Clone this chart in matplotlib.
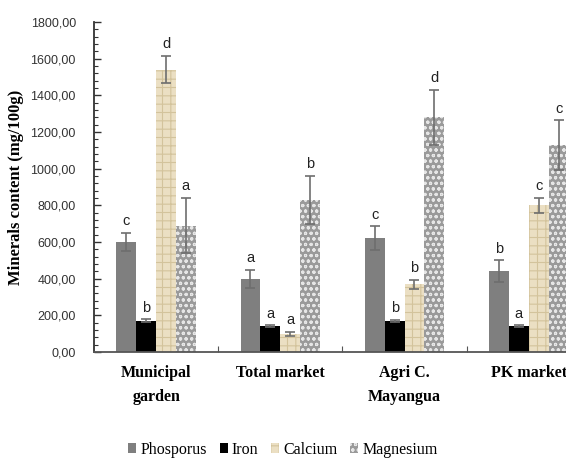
import numpy as np
import matplotlib
matplotlib.use("Agg")
import matplotlib.pyplot as plt
from matplotlib.ticker import MultipleLocator, FuncFormatter

# Datos (mg/100g)
sites = ["Municipal\ngarden", "Total market", "Agri C.\nMayangua", "PK market"]
minerals = ["Phosporus", "Iron", "Calcium", "Magnesium"]
phosporus = [600, 400, 620, 440]
iron = [170, 140, 170, 140]
calcium = [1540, 100, 370, 800]
magnesium = [690, 830, 1280, 1130]
err_p = [50, 50, 65, 60]
err_fe = [8, 6, 6, 5]
err_ca = [75, 10, 25, 40]
err_mg = [150, 130, 150, 135]
let_p = ["c", "a", "c", "b"]
let_fe = ["b", "a", "b", "a"]
let_ca = ["d", "a", "b", "c"]
let_mg = ["a", "b", "d", "c"]

values = [phosporus, iron, calcium, magnesium]
errors = [err_p, err_fe, err_ca, err_mg]
letters = [let_p, let_fe, let_ca, let_mg]
styles = [
    dict(color="#7f7f7f", edgecolor="#7f7f7f", hatch=None),
    dict(color="#000000", edgecolor="#000000", hatch=None),
    dict(color="#ebdfc3", edgecolor="#d3c39c", hatch="++"),
    dict(color="#9a9a9a", edgecolor="#e6e6e6", hatch="ooo"),
]

plt.rcParams["hatch.linewidth"] = 0.8
serif = "Liberation Serif"
sans = "Liberation Sans"

fig = plt.figure(figsize=(5.66, 4.70), dpi=100)
ax = fig.add_axes([0.166, 0.251, 0.878, 0.702])

x = np.arange(len(sites))
w = 0.16
offs = [-1.5 * w, -0.5 * w, 0.5 * w, 1.5 * w]
handles = []
for vals, errs, lets, st, off, name in zip(values, errors, letters, styles, offs, minerals):
    b = ax.bar(x + off, vals, w, color=st["color"], edgecolor=st["edgecolor"],
               hatch=st["hatch"], linewidth=0, label=name, zorder=2)
    handles.append(b)
    ax.errorbar(x + off, vals, yerr=errs, fmt="none", ecolor="#6e6e6e",
                elinewidth=1.2, capsize=3.5, capthick=1.2, zorder=3)
    for xi, v, e, l in zip(x + off, vals, errs, lets):
        ax.text(xi, v + e + 25, l, ha="center", va="bottom", fontsize=10.5,
                family=sans, color="#222222")

ax.set_xlim(-0.5, 3.5)
ax.set_ylim(0, 1800)
ax.yaxis.set_major_locator(MultipleLocator(200))
ax.yaxis.set_minor_locator(MultipleLocator(40))
ax.yaxis.set_major_formatter(FuncFormatter(lambda v, p: f"{v:.2f}".replace(".", ",")))
ax.tick_params(axis="y", which="major", direction="in", length=5, width=1,
               labelsize=9, color="#333333", pad=13)
ax.tick_params(axis="y", which="minor", direction="in", length=3, width=0.8,
               color="#333333")
for lab in ax.get_yticklabels():
    lab.set_family(sans)
    lab.set_color("#333333")

ax.set_xticks([0.5, 1.5, 2.5])
ax.set_xticklabels([])
ax.tick_params(axis="x", which="major", direction="in", length=4, color="#555555")
ax.set_xticks(x, minor=True)
ax.set_xticklabels(sites, minor=True, fontsize=11.5, family=serif,
                   fontweight="bold", linespacing=1.7)
ax.tick_params(axis="x", which="minor", length=0, pad=9)

for s in ["top", "right"]:
    ax.spines[s].set_visible(False)
ax.spines["left"].set_color("#333333")
ax.spines["left"].set_linewidth(1.3)
ax.spines["bottom"].set_color("#555555")
ax.spines["bottom"].set_linewidth(1.3)

ax.set_ylabel("Minerals content (mg/100g)", family=serif, fontweight="bold",
              fontsize=12, labelpad=5)

fig.legend(handles=handles, labels=minerals, loc="center", bbox_to_anchor=(0.5, 0.043),
           ncol=4, frameon=False, prop={"family": serif, "size": 11.5},
           handlelength=0.5, handleheight=0.6, handletextpad=0.25, columnspacing=0.8)

fig.savefig("out.png", dpi=100)
